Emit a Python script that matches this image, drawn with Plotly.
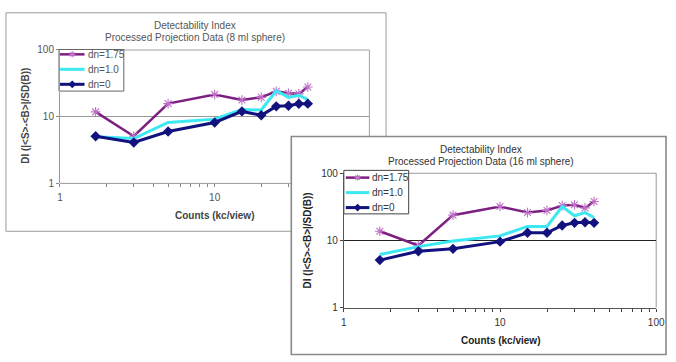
import plotly.graph_objects as go

# ---------------- data ----------------
counts = [1.7, 3, 5, 10, 15, 20, 25, 30, 35, 40]

# 8 ml sphere
di8_dn175 = [11.8, 5.1, 15.7, 21.5, 17.8, 19.5, 24.0, 22.5, 22.0, 27.9]
di8_dn10 = [5.0, 4.7, 8.2, 9.2, 12.8, 12.6, 24.5, 19.5, 21.0, 18.0]
di8_dn0 = [5.1, 4.1, 6.0, 8.2, 12.0, 10.5, 14.3, 14.6, 15.6, 15.7]

# 16 ml sphere
di16_dn175 = [13.7, 8.4, 23.8, 32.0, 26.0, 28.0, 33.0, 34.0, 30.5, 38.0]
di16_dn10 = [6.2, 8.1, 9.8, 11.7, 16.2, 16.2, 32.0, 23.3, 26.0, 22.0]
di16_dn0 = [5.1, 6.9, 7.5, 9.6, 13.0, 13.0, 16.7, 18.3, 18.7, 18.3]

series_names = ["dn=1.75", "dn=1.0", "dn=0"]
title_line1 = "Detectability Index"
title8 = "Processed Projection Data (8 ml sphere)"
title16 = "Processed Projection Data (16 ml sphere)"
x_title = "Counts (kc/view)"
y_title = "DI (|&lt;S&gt;-&lt;B&gt;|/SD(B))"
y_tick_vals = [1, 10, 100]
y_tick_text = ["1", "10", "100"]
x_tick_vals = [1, 2, 3, 4, 5, 6, 7, 8, 9, 10, 20, 30, 40, 50, 60, 70, 80, 90, 100]
x_tick_text = ["1"] + [""] * 8 + ["10"] + [""] * 8 + ["100"]
# chart 1 is partly covered by chart 2: only ticks up to 30 are visible
x_tick_vals_8 = x_tick_vals[:12]
x_tick_text_8 = x_tick_text[:12]

# ---------------- geometry (pixels) ----------------
W, H = 676, 362


def X(p):
    return p / W


def Y(p):
    return 1 - p / H


STY = {
    "dn=1.75": dict(mode="lines+markers", line=dict(color="#7b1f80", width=2.5),
                    marker=dict(symbol="asterisk-open", size=8, color="#c070c8",
                                line=dict(color="#c070c8", width=1.1))),
    "dn=1.0": dict(mode="lines", line=dict(color="#3ce8f2", width=3)),
    "dn=0": dict(mode="lines+markers", line=dict(color="#12127e", width=3),
                 marker=dict(symbol="diamond", size=8, color="#12127e")),
}
LEG_MARKER_SIZE = {"dn=1.75": 5, "dn=0": 6}

fig = go.Figure()

for name, ys in zip(series_names, [di8_dn175, di8_dn10, di8_dn0]):
    fig.add_trace(go.Scatter(x=counts, y=ys, name=name, xaxis="x", yaxis="y",
                             showlegend=False, **STY[name]))
for name, ys in zip(series_names, [di16_dn175, di16_dn10, di16_dn0]):
    fig.add_trace(go.Scatter(x=counts, y=ys, name=name, xaxis="x2", yaxis="y2",
                             showlegend=False, **STY[name]))

# legend keys (drawn on a pixel helper axis)
legend_boxes = [
    dict(x0=57, x1=123, y0=45, y1=88, lx0=58, lx1=83, ys=[50, 65.5, 81], tx=84),
    dict(x0=347, x1=413, y0=170, y1=215, lx0=349, lx1=373, ys=[177.5, 193, 208.5], tx=374),
]
for lb in legend_boxes:
    for name, yy in zip(series_names, lb["ys"]):
        st = STY[name]
        mid = (lb["lx0"] + lb["lx1"]) / 2
        fig.add_trace(go.Scatter(x=[lb["lx0"], lb["lx1"]], y=[yy, yy], xaxis="x3", yaxis="y3",
                                 mode="lines", line=st["line"],
                                 showlegend=False, hoverinfo="skip"))
        if "marker" in st:
            mk = dict(st["marker"])
            mk["size"] = LEG_MARKER_SIZE[name]
            fig.add_trace(go.Scatter(x=[mid], y=[yy], mode="markers", marker=mk,
                                     xaxis="x3", yaxis="y3", showlegend=False, hoverinfo="skip"))

# ---------------- axes ----------------
c1 = dict(x0=58, x1=373, y0=45.5, y1=183.5)
c2 = dict(x0=347, x1=665, y0=173, y1=312)

tick_font1 = dict(family="Liberation Sans, Arial", size=10, color="#555")
tick_font2 = dict(family="Liberation Sans, Arial", size=10, color="#333")

fig.update_layout(
    xaxis=dict(type="log", domain=[X(c1["x0"]), X(c1["x1"])], range=[0, 2], anchor="y",
               tickvals=x_tick_vals_8, ticktext=x_tick_text_8, ticks="outside", ticklen=3,
               tickcolor="#888", showline=False, showgrid=False, zeroline=False,
               tickfont=tick_font1, ticklabelstandoff=2),
    yaxis=dict(type="log", domain=[Y(c1["y1"]), Y(c1["y0"])], range=[0, 2], anchor="x",
               tickvals=y_tick_vals, ticktext=y_tick_text, ticks="outside", ticklen=3,
               tickcolor="#888", showline=True, linecolor="#999", linewidth=1,
               showgrid=True, gridcolor="#9a9a9a", gridwidth=1, zeroline=False,
               tickfont=tick_font1),
    xaxis2=dict(type="log", domain=[X(c2["x0"]), X(c2["x1"])], range=[0, 2], anchor="y2",
                tickvals=x_tick_vals, ticktext=x_tick_text, ticks="outside", ticklen=3,
                tickcolor="#444", showline=True, linecolor="#555", linewidth=1,
                showgrid=False, zeroline=False, tickfont=tick_font2, ticklabelstandoff=2),
    yaxis2=dict(type="log", domain=[Y(c2["y1"]), Y(c2["y0"])], range=[0, 2], anchor="x2",
                tickvals=y_tick_vals, ticktext=y_tick_text, ticks="outside", ticklen=3,
                tickcolor="#444", showline=True, linecolor="#555", linewidth=1,
                showgrid=True, gridcolor="#222", gridwidth=1, zeroline=False,
                tickfont=tick_font2),
    xaxis3=dict(domain=[0, 1], range=[0, W], visible=False, fixedrange=True, anchor="y3"),
    yaxis3=dict(domain=[0, 1], range=[H, 0], visible=False, fixedrange=True, anchor="x3"),
)

# ---------------- frames / borders ----------------
shapes = []


def line(x0, y0, x1, y1, color, width=1):
    shapes.append(dict(type="line", xref="paper", yref="paper", x0=X(x0), y0=Y(y0),
                       x1=X(x1), y1=Y(y1), line=dict(color=color, width=width), layer="below"))


# chart 1 outer frame (partly hidden behind chart 2)
line(3, 7, 390, 7, "#9a9a9a")
line(3, 7, 3, 233, "#9a9a9a")
line(390, 7, 390, 135, "#9a9a9a")
line(3, 233, 293, 233, "#9a9a9a")
# chart 1 plot-area border
line(c1["x0"], c1["y0"], c1["x1"], c1["y0"], "#a0a0a0")
line(c1["x1"], c1["y0"], c1["x1"], 135, "#a0a0a0")
line(c1["x0"], c1["y1"], 293, c1["y1"], "#999")
# chart 2 outer frame
shapes.append(dict(type="rect", xref="paper", yref="paper", x0=X(293.5), x1=X(675),
                   y0=Y(360.5), y1=Y(135), line=dict(color="#8a8a8a", width=1.6),
                   fillcolor="rgba(0,0,0,0)", layer="below"))
# chart 2 plot-area border (top / right)
line(c2["x0"], c2["y0"], c2["x1"], c2["y0"], "#999")
line(c2["x1"], c2["y0"], c2["x1"], c2["y1"], "#999")
# legend boxes
for lb, col in zip(legend_boxes, ["#666", "#444"]):
    shapes.append(dict(type="rect", xref="paper", yref="paper", x0=X(lb["x0"]), x1=X(lb["x1"]),
                       y0=Y(lb["y1"]), y1=Y(lb["y0"]), line=dict(color=col, width=1),
                       fillcolor="white", layer="below"))

# ---------------- texts ----------------
annotations = []


def text(s, x, y, size=10, color="#444", xanchor="center", angle=0):
    annotations.append(dict(text=s, x=X(x), y=Y(y), xref="paper", yref="paper",
                            showarrow=False, xanchor=xanchor, yanchor="middle", textangle=angle,
                            font=dict(family="Liberation Sans, Arial", size=size, color=color)))


text(title_line1, 195, 20, color="#555")
text(title8, 195, 33, color="#555")
text(title_line1, 487, 148, color="#333")
text(title16, 487, 161, color="#333")
text("<b>" + x_title + "</b>", 215, 217, color="#444")
text("<b>" + x_title + "</b>", 506, 346, color="#222")
text("<b>" + y_title + "</b>", 23, 114, color="#444", angle=-90)
text("<b>" + y_title + "</b>", 310, 242, color="#222", angle=-90)
for lb, col in zip(legend_boxes, ["#555", "#333"]):
    for name, yy in zip(series_names, lb["ys"]):
        text(name, lb["tx"], yy, color=col, xanchor="left")

fig.update_layout(
    width=W, height=H, margin=dict(l=0, r=0, t=0, b=0),
    paper_bgcolor="white", plot_bgcolor="rgba(0,0,0,0)",
    showlegend=False, shapes=shapes, annotations=annotations,
)

fig.write_html("out.html")
